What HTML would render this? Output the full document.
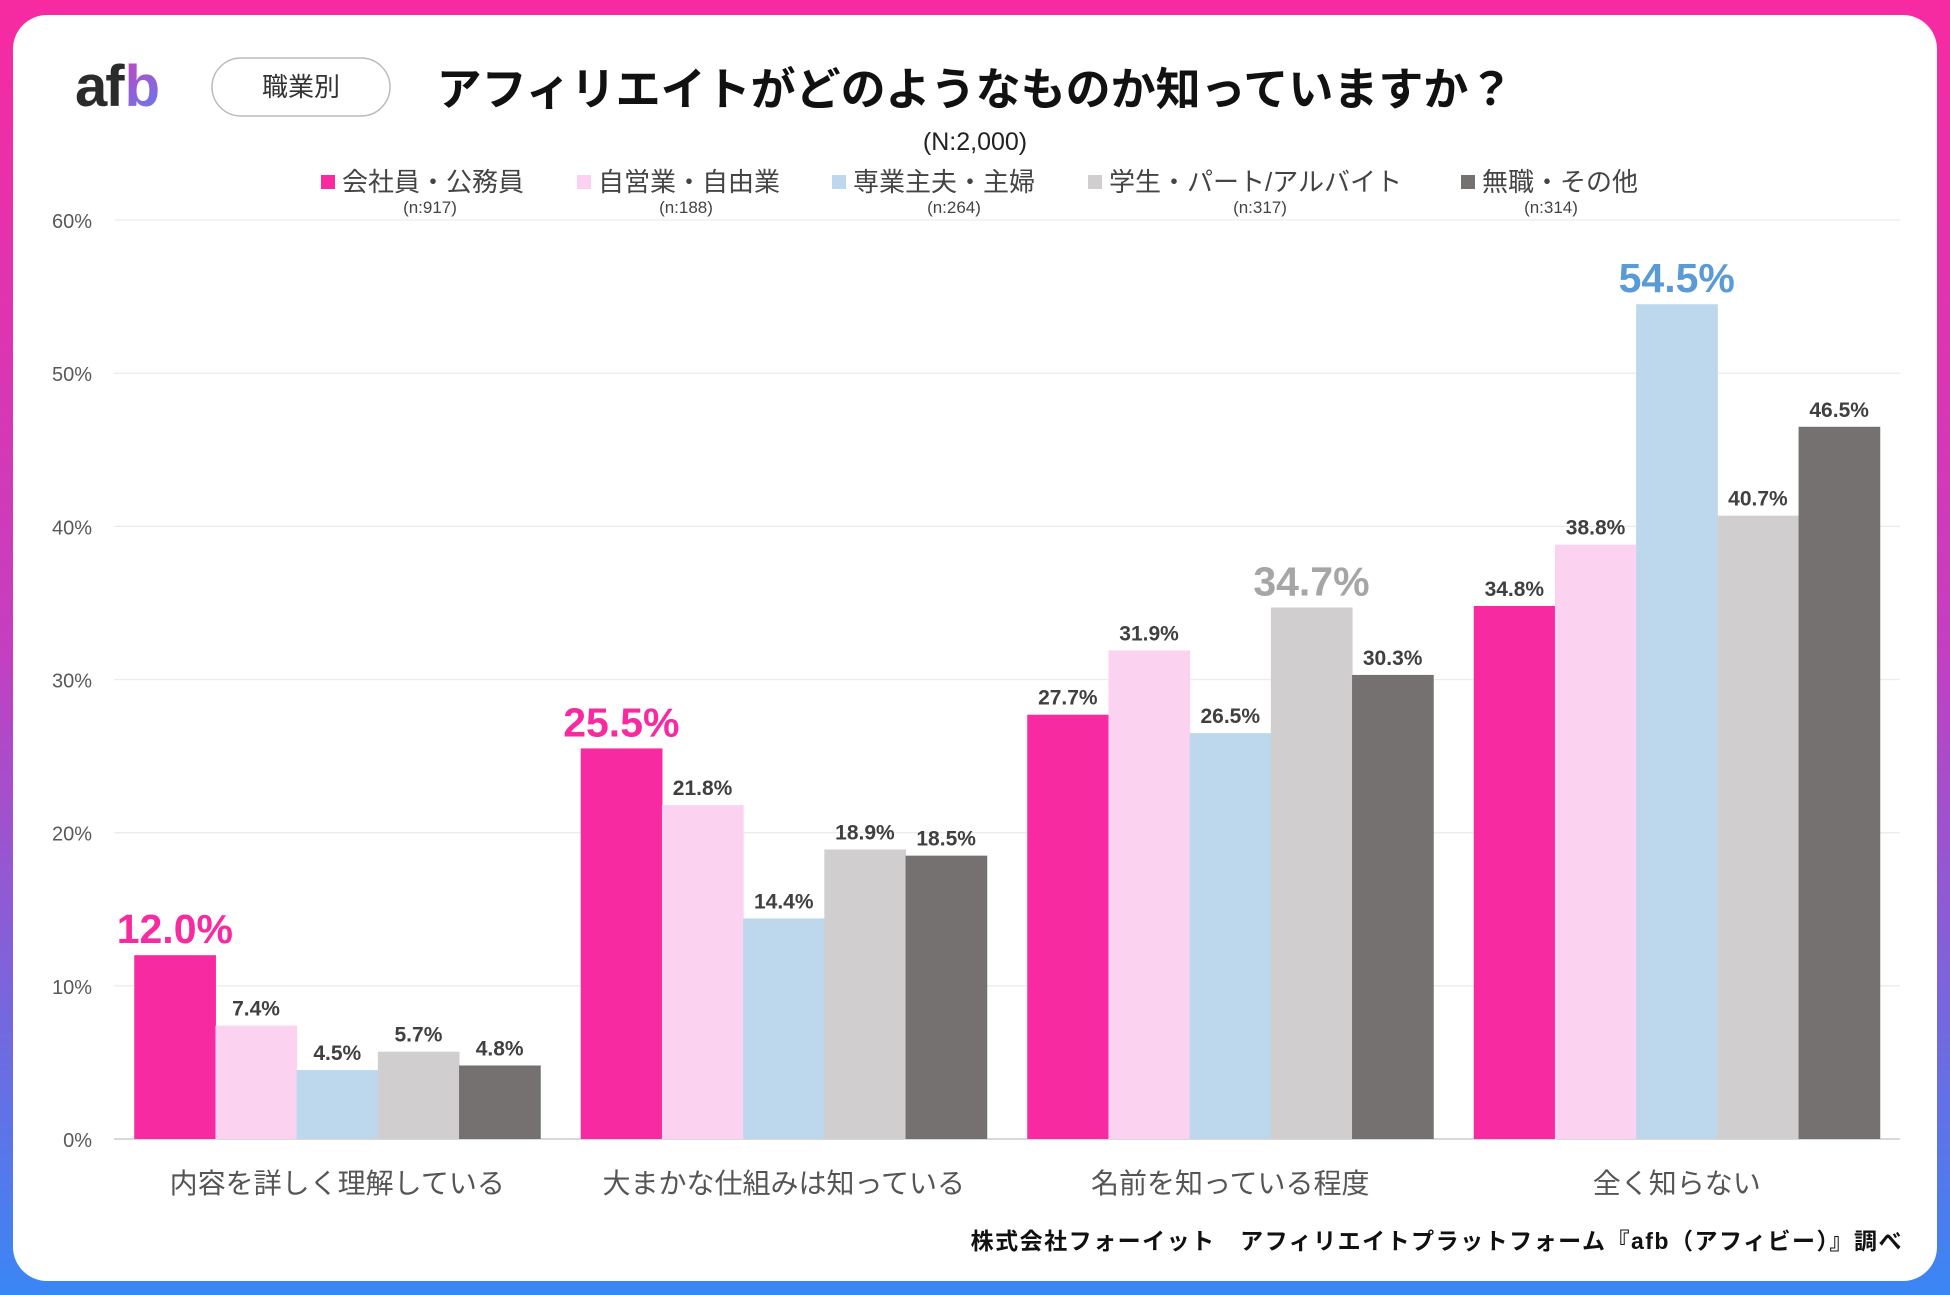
<!DOCTYPE html>
<html><head><meta charset="utf-8">
<style>
html,body{margin:0;padding:0;}
body{width:1950px;height:1295px;position:relative;overflow:hidden;background:linear-gradient(180deg,#f72aa1 0%,#c43fc0 50%,#3a86f5 100%);font-family:"Liberation Sans","Noto Sans CJK JP",sans-serif;}
#card{position:absolute;left:13px;top:15px;width:1924px;height:1266px;background:#fff;border-radius:34px;}
svg{position:absolute;left:0;top:0;}
</style></head>
<body>
<div id="card"></div>
<svg id="chart" width="1950" height="1295">
  <g>
    <defs><linearGradient id="lg" x1="0" y1="0" x2="1" y2="1"><stop offset="0" stop-color="#f72aa1"/><stop offset="1" stop-color="#5b7ff5"/></linearGradient></defs>
    <text x="75" y="106" font-family="Liberation Sans, sans-serif" font-size="58" font-weight="bold" fill="#2b2b2b" letter-spacing="-2">af<tspan fill="url(#lg)" dx="2">b</tspan></text>
  </g>
  <rect x="212" y="58" width="178" height="58" rx="29" fill="#fff" stroke="#bbb" stroke-width="1.5"/>
  <text x="301" y="96" text-anchor="middle" font-size="26" fill="#333">職業別</text>
  <text x="975" y="105" text-anchor="middle" font-size="45" font-weight="bold" fill="#111">アフィリエイトがどのようなものか知っていますか？</text>
  <text x="975" y="150" text-anchor="middle" font-size="25" fill="#222">(N:2,000)</text>
  <g id="legend"></g>
  <g id="grid"></g>
  <g id="bars"></g>
  <g id="labels"></g>
  <text x="1903" y="1249" text-anchor="end" font-size="23" font-weight="bold" fill="#111" letter-spacing="1.5">株式会社フォーイット　アフィリエイトプラットフォーム『afb（アフィビー）』調べ</text>
</svg>
<script>
const categories=["内容を詳しく理解している","大まかな仕組みは知っている","名前を知っている程度","全く知らない"];
const seriesNames=["会社員・公務員","自営業・自由業","専業主夫・主婦","学生・パート/アルバイト","無職・その他"];
const seriesN=["(n:917)","(n:188)","(n:264)","(n:317)","(n:314)"];
const s1=[12.0,25.5,27.7,34.8];
const s2=[7.4,21.8,31.9,38.8];
const s3=[4.5,14.4,26.5,54.5];
const s4=[5.7,18.9,34.7,40.7];
const s5=[4.8,18.5,30.3,46.5];
const yTicks=[0,10,20,30,40,50,60];
const series=[s1,s2,s3,s4,s5];
const colors=["#f72aa1","#fbd3f1","#bdd7ec","#d0cece","#767171"];
const hiColors=["#f72aa1","#e9a0dc","#5b9bd5","#a6a6a6","#595959"];
const NS="http://www.w3.org/2000/svg";
const X0=114,X1=1900,Y0=1139,Y60=220;
const y=v=>Y0-(v/60)*(Y0-Y60);
const catW=(X1-X0)/categories.length, barW=81.2, gOff=(catW-5*barW)/2;
function mk(tag,attrs,parent,text){const e=document.createElementNS(NS,tag);for(const k in attrs)e.setAttribute(k,attrs[k]);if(text!==undefined)e.textContent=text;parent.appendChild(e);return e;}
const grid=document.getElementById('grid'),bars=document.getElementById('bars'),labels=document.getElementById('labels'),legend=document.getElementById('legend');
yTicks.forEach(t=>{
  const l=mk('line',{x1:X0,x2:X1,y1:y(t),y2:y(t),stroke:t===0?'#d9d9d9':'#ececec','stroke-width':t===0?2:1.3},grid);
  
  
  const tx=mk('text',{x:92,y:y(t)+8,'text-anchor':'end','font-size':20,fill:'#595959'},grid,t+'%');
  
  
});
const legX=[321,577,832,1088,1461], legNX=[430,686,954,1260,1551];
seriesNames.forEach((n,i)=>{
  const r=mk('rect',{x:legX[i],y:175,width:14,height:14,fill:colors[i]},legend);
  
  
  const t=mk('text',{x:legX[i]+21,y:191,'font-size':26,fill:'#444'},legend,n);
  
  
  const t2=mk('text',{x:legNX[i],y:213,'text-anchor':'middle','font-size':17,fill:'#444'},legend,seriesN[i]);
  
  
});
categories.forEach((c,ci)=>{
  const gx=X0+ci*catW+gOff;
  let maxI=0;series.forEach((s,si)=>{if(s[ci]>series[maxI][ci])maxI=si;});
  series.forEach((s,si)=>{
    const v=s[ci],bx=gx+si*barW;
    const r=mk('rect',{x:bx,y:y(v),width:barW+0.5,height:Y0-y(v),fill:colors[si]},bars);
    
    
    const hi=si===maxI;
    const t=mk('text',{x:bx+barW/2,y:y(v)-(hi?12:10),'text-anchor':'middle','font-size':hi?41:21,'font-weight':'bold',fill:hi?hiColors[si]:'#404040'},labels,v.toFixed(1)+'%');
    
    
  });
  const ct=mk('text',{x:X0+ci*catW+catW/2,y:1193,'text-anchor':'middle','font-size':28,fill:'#555'},labels,c);
  
  
});
</script>
</body></html>
